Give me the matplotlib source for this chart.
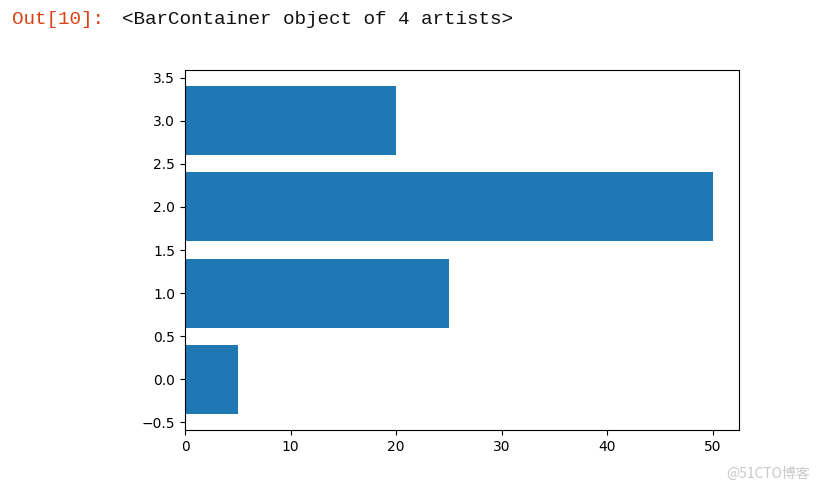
import matplotlib
matplotlib.use("Agg")
import matplotlib.pyplot as plt

# bar data
positions = [0, 1, 2, 3]
widths = [5, 25, 50, 20]

fig = plt.figure(figsize=(8.17, 4.91), dpi=100)

# notebook output line
fig.text(12 / 817, 1 - 20 / 491, "Out[10]:", color="#d84315",
         family="Liberation Mono", fontsize=13.9, va="center", ha="left")
fig.text(122 / 817, 1 - 20 / 491, "<BarContainer object of 4 artists>", color="#111111",
         family="Liberation Mono", fontsize=13.9, va="center", ha="left")

ax = fig.add_axes([185 / 817, 1 - 430 / 491, (739 - 185) / 817, (430 - 70) / 491])
ax.barh(positions, widths, color="#1f77b4")
ax.tick_params(labelsize=10)

# watermark
fig.text(810 / 817, 1 - 474 / 491, "@51CTO博客", color="#c8c8c8",
         family=["Noto Sans CJK SC", "DejaVu Sans"], fontsize=10, ha="right", va="center")

fig.savefig("out.png", dpi=100)
